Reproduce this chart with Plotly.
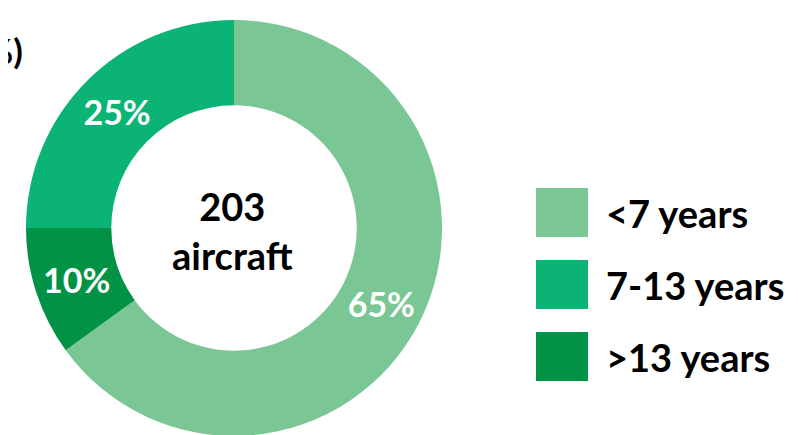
import plotly.graph_objects as go

# --- Data ---
age_groups = ["<7 years", "7-13 years", ">13 years"]
shares = [65, 25, 10]
colors = ["#7AC795", "#0BB474", "#029246"]
pie_order = [0, 2, 1]  # clockwise from 12 o'clock: <7, >13, 7-13
total_aircraft = 203

W, H = 798, 435
OFF = 8  # page body margin offset in the screenshot
FONT = "Lato, 'Open Sans', sans-serif"


def px(x):
    return (x - OFF) / W


def py(y):
    return 1 - (y - OFF) / H


fig = go.Figure()

# --- Donut ---
fig.add_trace(go.Pie(
    labels=[age_groups[i] for i in pie_order],
    values=[shares[i] for i in pie_order],
    hole=0.59,
    sort=False,
    direction="clockwise",
    rotation=0,
    marker=dict(colors=[colors[i] for i in pie_order], line=dict(width=0)),
    texttemplate="%{value}%",
    textposition="inside",
    insidetextorientation="horizontal",
    textfont=dict(family=FONT, size=34, color="white", weight="bold"),
    domain=dict(x=[px(26), px(442)], y=[py(436), py(20)]),
    showlegend=False,
    hoverinfo="label+percent",
))

# --- Centre label ---
fig.add_annotation(
    x=px(232), y=py(230), xref="paper", yref="paper",
    xanchor="center", yanchor="middle",
    text=f"{total_aircraft}<br>aircraft",
    showarrow=False, align="center",
    font=dict(family=FONT, size=38, color="black", weight="bold"),
)

# --- Cut-off title fragment at top-left ---
fig.add_annotation(
    x=px(25), y=py(50), xref="paper", yref="paper",
    xanchor="right", yanchor="middle",
    text="(%)", showarrow=False,
    font=dict(family=FONT, size=35, color="black", weight="bold"),
)

# --- Custom legend (big squares) ---
legend_top = [188, 260, 332]
for name, col, top in zip(age_groups, colors, legend_top):
    fig.add_shape(
        type="rect", xref="paper", yref="paper",
        x0=px(536), x1=px(588),
        y0=py(top + 49), y1=py(top),
        fillcolor=col, line=dict(width=0),
    )
    fig.add_annotation(
        x=px(604), y=py(top + 25), xref="paper", yref="paper",
        xanchor="left", yanchor="middle",
        text=name, showarrow=False,
        font=dict(family=FONT, size=38, color="black", weight="bold"),
    )

fig.update_layout(
    width=W, height=H,
    margin=dict(l=0, r=0, t=0, b=0),
    paper_bgcolor="white",
    plot_bgcolor="white",
)

fig.write_html("out.html")
